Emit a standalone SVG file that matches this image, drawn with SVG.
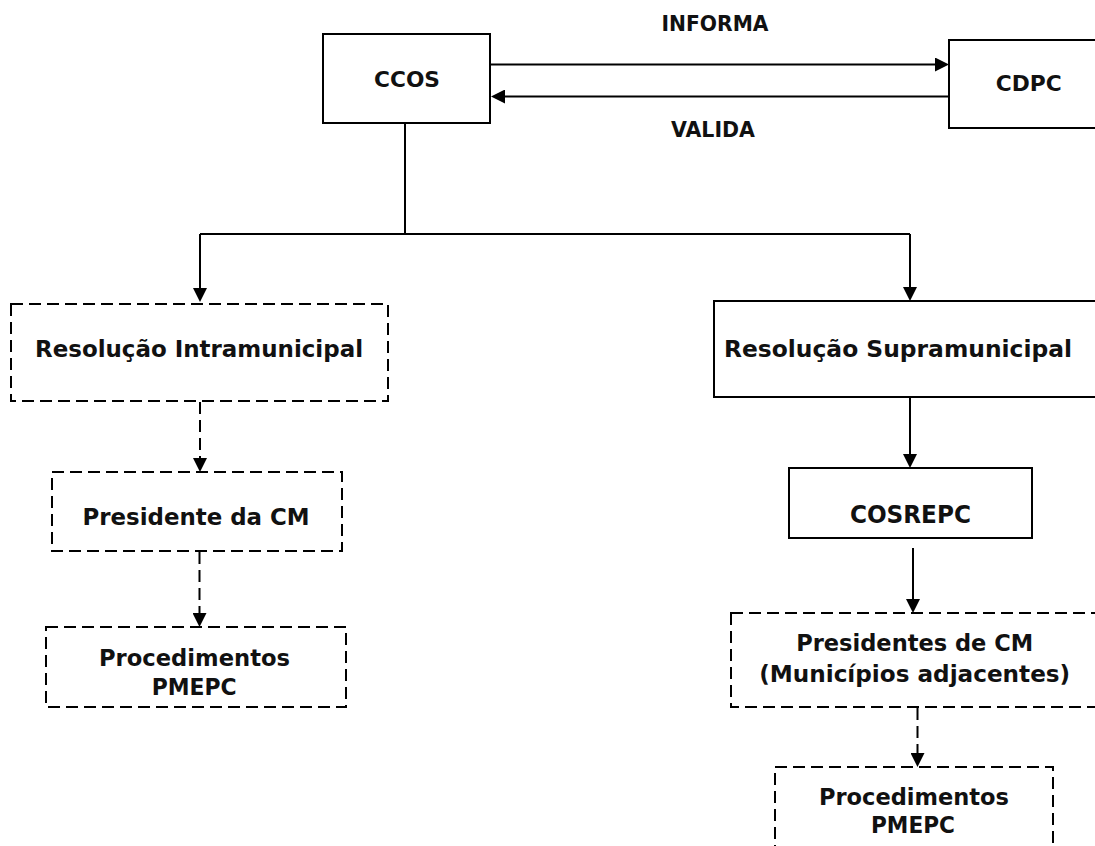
<svg xmlns="http://www.w3.org/2000/svg" width="1095" height="846" viewBox="0 0 1095 846">
  <style>
    .box { fill: #ffffff; stroke: #000000; stroke-width: 2; }
    .dash { stroke-dasharray: 12 6; }
    .lbl { font-family: "DejaVu Sans", "Liberation Sans", sans-serif; font-weight: bold; fill: #111111; text-anchor: middle; }
    .s21 { font-size: 21px; }
    .s23 { font-size: 23px; }
    .s25 { font-size: 25px; }
    .wire { fill: none; stroke: #000000; stroke-width: 2; }
    .arrow { marker-end: url(#head); }
  </style>
  <defs>
    <marker id="head" markerUnits="userSpaceOnUse" markerWidth="14" markerHeight="14" refX="4" refY="7" orient="auto">
      <path d="M0,0 L14,7 L0,14 z" fill="#000000"/>
    </marker>
  </defs>

  <rect width="1095" height="846" fill="#ffffff"/>

  <!-- connectors -->
  <g id="connectors">
    <line class="wire arrow" x1="491" y1="64.5" x2="939" y2="64.5"/>
    <line class="wire arrow" x1="949" y1="96.5" x2="501" y2="96.5"/>
    <polyline class="wire" points="405,123 405,234"/>
    <polyline class="wire" points="200,234 910,234"/>
    <line class="wire arrow" x1="200" y1="234" x2="200" y2="292"/>
    <line class="wire arrow" x1="910" y1="234" x2="910" y2="291"/>
    <line class="wire arrow" x1="910" y1="397" x2="910" y2="458"/>
    <line class="wire arrow" x1="913" y1="548" x2="913" y2="603"/>
    <line class="wire arrow dash" x1="200" y1="402" x2="200" y2="462"/>
    <line class="wire arrow dash" x1="199.5" y1="552" x2="199.5" y2="617"/>
    <line class="wire arrow dash" x1="917.5" y1="708" x2="917.5" y2="757"/>
    <text class="lbl s21" x="715" y="30.7" textLength="107" lengthAdjust="spacingAndGlyphs">INFORMA</text>
    <text class="lbl s21" x="713" y="136.7" textLength="84" lengthAdjust="spacingAndGlyphs">VALIDA</text>
  </g>

  <g id="ccos">
    <rect class="box" x="323" y="34" width="167" height="89"/>
    <text class="lbl s21" x="407" y="87.3" textLength="66" lengthAdjust="spacingAndGlyphs">CCOS</text>
  </g>

  <g id="cdpc">
    <rect class="box" x="949" y="40" width="160" height="88"/>
    <text class="lbl s21" x="1028.7" y="90.7" textLength="66" lengthAdjust="spacingAndGlyphs">CDPC</text>
  </g>

  <g id="resolucao-intramunicipal">
    <rect class="box dash" x="11" y="304" width="377" height="97"/>
    <text class="lbl s23" x="199" y="357.3" textLength="328" lengthAdjust="spacingAndGlyphs">Resolução Intramunicipal</text>
  </g>

  <g id="resolucao-supramunicipal">
    <rect class="box" x="714" y="301" width="390" height="96"/>
    <text class="lbl s23" x="898" y="357.3" textLength="348" lengthAdjust="spacingAndGlyphs">Resolução Supramunicipal</text>
  </g>

  <g id="presidente-cm">
    <rect class="box dash" x="52" y="472" width="290" height="79"/>
    <text class="lbl s23" x="196" y="525" textLength="227" lengthAdjust="spacingAndGlyphs">Presidente da CM</text>
  </g>

  <g id="procedimentos-intra">
    <rect class="box dash" x="46" y="627" width="300" height="80"/>
    <text class="lbl s23" x="194.5" y="665.5" textLength="191" lengthAdjust="spacingAndGlyphs">Procedimentos</text>
    <text class="lbl s23" x="194.2" y="695" textLength="85" lengthAdjust="spacingAndGlyphs">PMEPC</text>
  </g>

  <g id="cosrepc">
    <rect class="box" x="789" y="468" width="243" height="70"/>
    <text class="lbl s25" x="910.4" y="523.3" textLength="121" lengthAdjust="spacingAndGlyphs">COSREPC</text>
  </g>

  <g id="presidentes-cm">
    <rect class="box dash" x="731" y="613" width="380" height="94"/>
    <text class="lbl s23" x="914.7" y="650.7" textLength="237" lengthAdjust="spacingAndGlyphs">Presidentes de CM</text>
    <text class="lbl s23" x="914.7" y="681.7" textLength="311" lengthAdjust="spacingAndGlyphs">(Municípios adjacentes)</text>
  </g>

  <g id="procedimentos-supra">
    <rect class="box dash" x="775" y="767" width="278" height="100"/>
    <text class="lbl s23" x="914" y="805" textLength="190" lengthAdjust="spacingAndGlyphs">Procedimentos</text>
    <text class="lbl s23" x="913" y="832.7" textLength="84" lengthAdjust="spacingAndGlyphs">PMEPC</text>
  </g>
</svg>
